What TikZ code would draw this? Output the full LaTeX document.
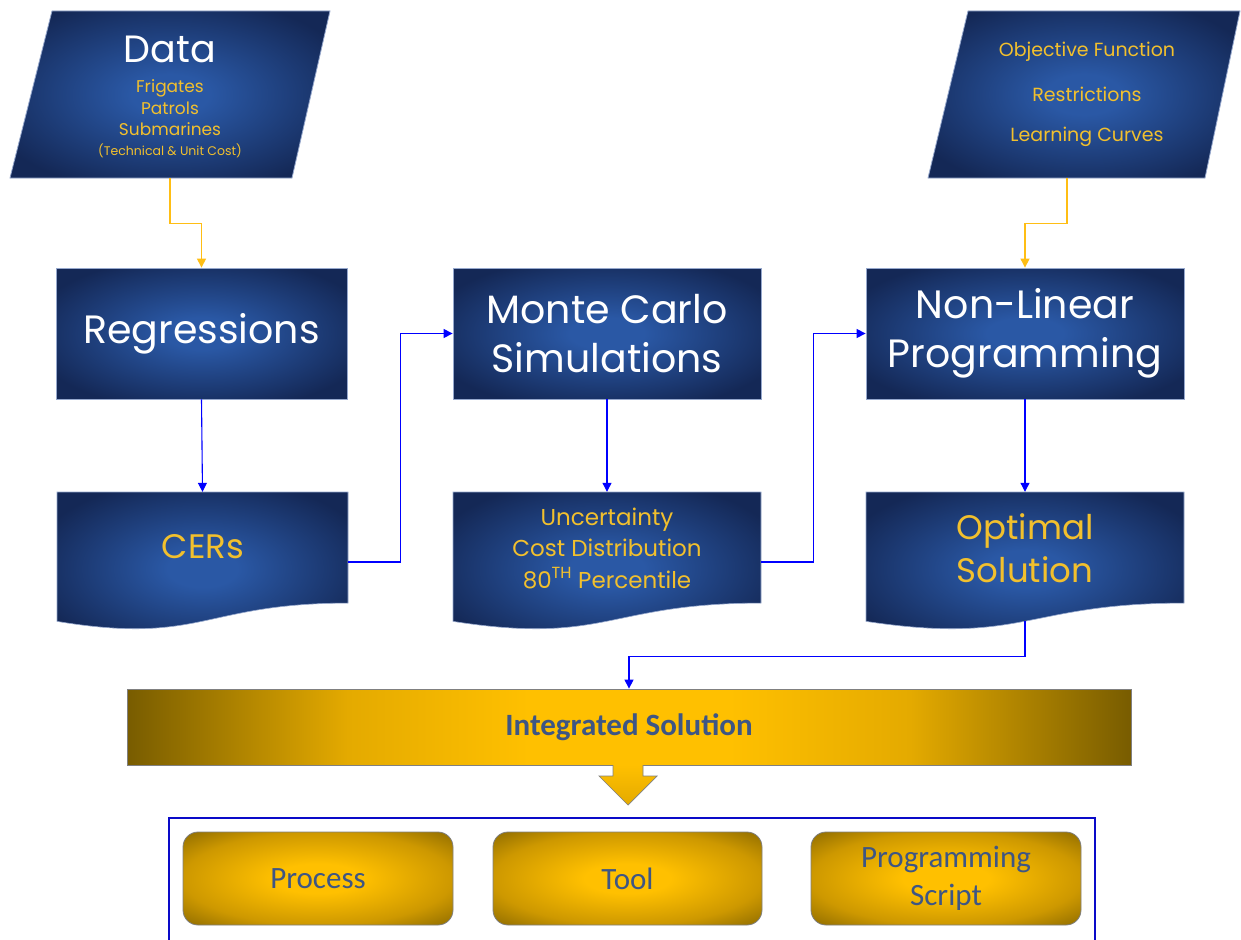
\documentclass[tikz,border=0pt]{standalone}
\usepackage{fontspec}
\setmainfont{Poppins}
\newfontfamily\calib{Carlito}
\usetikzlibrary{arrows.meta,calc}

\definecolor{bluein}{RGB}{42,88,165}
\definecolor{blueout}{RGB}{20,40,86}
\definecolor{bordercol}{RGB}{150,168,205}
\definecolor{goldtext}{RGB}{242,192,45}
\definecolor{yline}{RGB}{255,190,20}
\definecolor{goldlt}{RGB}{255,192,0}
\definecolor{goldmd}{RGB}{228,170,0}
\definecolor{goldbx}{RGB}{205,152,0}
\definecolor{golddk}{RGB}{120,92,0}
\definecolor{goldedge}{RGB}{140,106,0}
\definecolor{slate}{RGB}{62,86,132}
\definecolor{framecol}{RGB}{10,10,200}

% TikZ maps the path's bounding box onto the central 25bp..75bp of a shading
\pgfdeclareradialshading{blueglow}{\pgfpoint{0bp}{0bp}}{color(0bp)=(bluein); color(6bp)=(bluein); color(30bp)=(blueout); color(50bp)=(blueout)}
\pgfdeclareradialshading{goldglow}{\pgfpoint{0bp}{0bp}}{color(0bp)=(goldlt); color(8bp)=(goldlt); color(25bp)=(goldbx); color(36bp)=(goldedge); color(50bp)=(goldedge)}
\pgfdeclarehorizontalshading{goldbar}{100bp}{color(0bp)=(golddk); color(25bp)=(golddk); color(36bp)=(goldmd); color(45bp)=(goldlt); color(55bp)=(goldlt); color(64bp)=(goldmd); color(75bp)=(golddk); color(100bp)=(golddk)}
\pgfdeclareverticalshading{goldarrow}{100bp}{color(0bp)=(goldmd); color(25bp)=(goldmd); color(75bp)=(goldlt); color(100bp)=(goldlt)}

\tikzset{
  bluebox/.style={rectangle, shading=blueglow, draw=bordercol, line width=0.8pt, text=white, align=center,
     font=\fontsize{39.5}{49}\selectfont},
  shapebox/.style={rectangle, draw=none, inner sep=0pt},
  whitetxt/.style={text=white, inner sep=0pt},
  goldtxt/.style={text=goldtext, inner sep=0pt, align=center},
  yconn/.style={draw=yline, line width=1.1pt, -{Triangle[length=9pt,width=9pt]}},
  bconn/.style={draw=blue, line width=1.1pt, -{Triangle[length=9pt,width=9pt]}},
  goldbox/.style={rectangle, rounded corners=15pt, shading=goldglow, draw=gray, line width=0.8pt,
     text=slate, align=center, font=\calib\fontsize{31}{38}\selectfont},
}

\newcommand\docpath[4]{(#1,#2) -- ({#1+#3},#2) -- ({#1+#3},{#2+0.802*#4})
  .. controls ({#1+0.5*#3},{#2+0.802*#4}) and ({#1+0.5*#3},{#2+1.107*#4}) .. (#1,{#2+0.934*#4}) -- cycle}

\begin{document}
\begin{tikzpicture}[x=1pt,y=-1pt]
\useasboundingbox (0,0) rectangle (1241,939);
\fill[white] (0,0) rectangle (1241,939);

% ---- input parallelograms
\shade[shading=blueglow, draw=bordercol, line width=0.8pt] (52,11) -- (330,11) -- (292,178) -- (10,178) -- cycle;
\node[shapebox, minimum width=320pt, minimum height=167pt] (data) at (170,94.5) {};
\node[whitetxt, font=\fontsize{38}{44}\selectfont] (datat) at (170,49) {Data};
\node[goldtxt, font=\fontsize{17}{20}\selectfont] (d1) at (170,88) {Frigates};
\node[goldtxt, font=\fontsize{17}{20}\selectfont] (d2) at (170,108) {Patrols};
\node[goldtxt, font=\fontsize{17}{20}\selectfont] (d3) at (170,129) {Submarines};
\node[goldtxt, font=\fontsize{12.5}{15}\selectfont] (d4) at (170,151) {(Technical \& Unit Cost)};

\shade[shading=blueglow, draw=bordercol, line width=0.8pt] (968,11) -- (1240,11) -- (1205,178) -- (928,178) -- cycle;
\node[shapebox, minimum width=312pt, minimum height=167pt] (param) at (1084,94.5) {};
\node[goldtxt, font=\fontsize{19}{22}\selectfont] (p1) at (1087,52) {Objective Function};
\node[goldtxt, font=\fontsize{19}{22}\selectfont] (p2) at (1087,94) {Restrictions};
\node[goldtxt, font=\fontsize{19}{22}\selectfont] (p3) at (1087,137) {Learning Curves};

% ---- process boxes
\node[bluebox, minimum width=291pt, minimum height=131pt] (reg) at (201.5,333.5) {Regressions};
\node[bluebox, minimum width=308pt, minimum height=131pt] (mc) at (607,333.5) {Monte Carlo\\Simulations};
\node[bluebox, minimum width=318pt, minimum height=131pt] (nlp) at (1025,333.5) {Non-Linear\\Programming};

% ---- documents
\shade[shading=blueglow, draw=bordercol, line width=0.6pt] \docpath{57}{492}{291}{138.5};
\shade[shading=blueglow, draw=bordercol, line width=0.6pt] \docpath{453}{492}{308}{138.5};
\shade[shading=blueglow, draw=bordercol, line width=0.6pt] \docpath{866}{492}{318}{138.5};
\node[shapebox, minimum width=291pt, minimum height=140pt] (cers) at (202.5,562) {};
\node[shapebox, minimum width=308pt, minimum height=140pt] (unc) at (607,562) {};
\node[shapebox, minimum width=318pt, minimum height=140pt] (opt) at (1025,562) {};
\node[goldtxt, font=\fontsize{34}{40}\selectfont] (cerst) at (203,547) {CERs};
\node[goldtxt, font=\fontsize{23}{31.5}\selectfont] (unct) at (607,548) {Uncertainty\\Cost Distribution\\80\textsuperscript{TH} Percentile};
\node[goldtxt, font=\fontsize{34}{43}\selectfont] (optt) at (1025,548) {Optimal\\Solution};

% ---- integrated solution
\node[rectangle, shading=goldbar, draw=gray, line width=0.8pt, minimum width=1004pt, minimum height=76pt,
      text=slate, font=\calib\bfseries\fontsize{31}{34}\selectfont] (integ) at (629,727) {Integrated Solution};
\path[shading=goldarrow, draw=gray, line width=0.7pt] (613,765) -- (613,776) -- (599,776) -- (628,805) -- (657,776) -- (643,776) -- (643,765);
\coordinate (arrtip) at (628,805);

% ---- bottom frame
\node[rectangle, draw=framecol, line width=1.8pt, minimum width=926pt, minimum height=124pt] (frame) at (632,880) {};
\node[goldbox, minimum width=270pt, minimum height=93pt] (proc) at (318,878.5) {Process};
\node[goldbox, minimum width=269pt, minimum height=93pt] (tool) at (627.5,878.5) {Tool};
\node[goldbox, minimum width=270pt, minimum height=93pt] (prog) at (946,878.5) {Programming\\Script};

% ---- connectors
\draw[yconn] (data.south) -- ++(0,45) -| (reg.north);
\draw[yconn] ([xshift=-17pt]param.south) -- ++(0,45) -| (nlp.north);
\draw[bconn] (reg.south) -- (cers.north);
\draw[bconn] (mc.south) -- (unc.north);
\draw[bconn] (nlp.south) -- (opt.north);
\draw[bconn] (cers.east) -- ++(52,0) |- (mc.west);
\draw[bconn] (unc.east) -- ++(52,0) |- (nlp.west);
\draw[bconn] ([yshift=11pt]opt.south) -- ++(0,35) -| (integ.north);
\end{tikzpicture}
\end{document}
